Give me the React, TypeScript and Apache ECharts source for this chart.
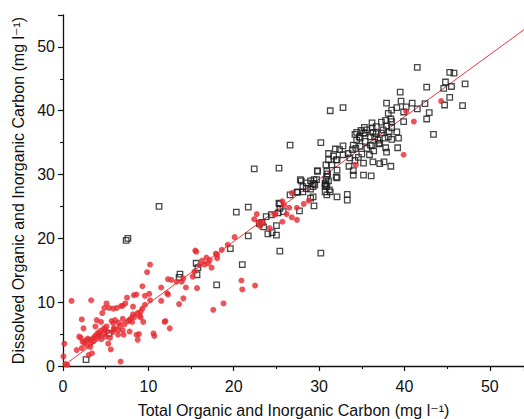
import React, { useEffect, useRef } from "react";
import * as echarts from "echarts";

const xTicks = [0, 10, 20, 30, 40, 50];
const yTicks = [0, 10, 20, 30, 40, 50];

const xTitle = "Total Organic and Inorganic Carbon (mg l\u207B\u00B9)";
const yTitle = "Dissolved Organic and Inorganic Carbon (mg l\u207B\u00B9)";

// black open squares
const squares: number[][] = [
  [2.7, 1.0], [5.4, 5.1], [7.4, 19.7], [7.6, 20.0], [11.25, 25.0], [13.7, 14.4], [13.6, 13.9],
  [15.6, 16.1], [15.8, 15.4], [15.7, 14.3], [18.0, 12.7], [19.6, 18.4], [21.0, 15.9], [21.7, 20.4],
  [20.3, 24.1], [21.7, 24.9], [22.4, 30.9], [25.3, 31.0], [23.0, 22.3], [24.0, 20.7], [25.0, 20.5],
  [25.4, 18.0], [25.0, 22.0], [24.5, 20.9], [23.8, 23.4], [23.5, 21.8], [23.3, 22.5], [25.2, 24.0],
  [25.8, 24.2], [24.4, 23.7], [25.3, 25.5], [25.4, 25.4], [25.4, 24.7], [26.6, 26.8], [27.4, 27.2],
  [27.9, 29.0], [28.1, 27.3], [28.5, 28.7], [29.0, 29.0], [29.4, 29.2], [29.8, 30.5], [29.3, 28.6],
  [27.7, 24.3], [29.4, 25.1], [29.0, 26.3], [29.3, 26.5], [30.2, 17.7], [26.6, 34.6], [30.2, 35.0],
  [31.3, 40.0], [32.8, 40.5], [33.3, 26.9], [33.3, 26.0], [32.1, 26.5], [30.9, 26.8],
  [30.8, 31.5], [31.1, 33.3], [31.7, 32.9], [32.1, 32.3], [31.0, 30.1], [30.8, 28.4], [31.1, 29.0],
  [31.3, 27.3], [32.1, 29.5], [31.1, 32.3], [32.0, 32.3], [31.5, 31.5], [30.9, 30.5], [32.1, 30.7],
  [29.8, 30.6], [30.9, 29.7], [30.8, 29.2], [32.0, 29.6], [30.7, 28.6], [30.7, 28.2], [29.7, 29.2],
  [29.3, 28.1], [27.8, 29.2], [30.9, 28.1], [30.7, 27.3], [29.0, 27.7], [31.2, 27.6], [27.5, 27.3],
  [29.5, 28.4], [28.1, 28.1], [28.5, 27.8], [31.9, 34.0], [32.4, 33.9], [32.8, 34.5], [33.9, 33.9],
  [34.3, 34.1], [34.0, 34.6], [32.8, 33.1], [33.4, 33.3], [34.8, 34.4], [35.6, 34.1], [33.6, 32.6],
  [34.2, 32.2], [33.5, 31.3], [34.0, 30.6], [35.2, 31.8], [35.0, 33.2], [34.6, 32.7], [34.0, 29.9],
  [35.2, 29.9], [36.1, 29.8], [36.3, 32.0], [36.4, 33.7], [35.9, 33.1], [37.1, 31.7], [37.6, 32.0],
  [38.4, 31.3], [37.8, 34.2], [37.9, 33.5], [39.2, 34.2], [36.2, 38.1], [37.3, 38.2], [38.5, 38.3],
  [37.9, 37.6], [36.7, 37.5], [36.2, 37.3], [35.6, 37.0], [35.2, 36.5], [34.4, 36.6], [34.2, 36.3],
  [34.8, 35.7], [34.4, 35.4], [35.4, 35.2], [36.0, 35.9], [36.5, 35.9], [36.9, 35.4], [37.1, 34.9],
  [37.7, 35.7], [38.1, 35.9], [38.5, 35.5], [39.1, 36.7], [39.3, 35.7], [37.5, 37.0], [36.3, 36.6],
  [38.4, 38.7], [35.3, 37.4], [34.9, 36.9], [36.7, 36.4], [37.3, 36.5], [38.5, 37.3], [37.8, 38.5],
  [38.2, 36.7], [37.0, 34.8], [36.2, 34.5], [34.7, 35.9], [35.4, 36.5], [36.0, 34.6],
  [41.5, 46.8], [45.3, 46.0], [45.8, 45.9], [44.8, 44.5], [47.1, 44.2], [42.6, 43.7], [44.6, 43.5],
  [45.5, 43.8], [39.5, 42.9], [45.3, 42.1], [37.9, 41.2], [39.6, 41.5], [39.1, 40.5], [38.5, 40.1],
  [38.1, 39.6], [40.2, 40.6], [40.9, 41.2], [41.5, 40.3], [42.4, 41.1], [44.7, 40.9], [46.8, 40.8],
  [42.9, 39.7], [39.9, 39.8], [39.9, 38.3], [42.6, 38.7], [43.4, 36.3],
];

// red filled circles
const circles: number[][] = [
  [0.05, 1.5], [0.16, 3.5], [0.3, 0.3], [0.5, 0.2], [1.0, 10.2], [3.3, 10.3], [1.6, 2.5], [2.2, 2.8],
  [2.3, 3.8], [2.2, 7.3], [2.4, 5.9], [1.9, 4.6], [2.1, 4.4], [2.5, 3.6], [2.7, 4.0], [2.8, 3.2],
  [2.9, 4.3], [3.0, 1.7], [3.4, 2.0], [3.2, 3.0], [3.1, 4.1], [3.3, 3.7], [3.5, 4.3], [3.6, 3.9],
  [3.7, 4.6], [3.8, 6.2], [3.95, 7.2], [3.9, 4.9], [4.0, 4.4], [4.1, 5.2], [4.2, 4.7], [4.3, 4.9],
  [4.45, 6.9], [4.4, 5.5], [4.5, 4.2], [4.6, 8.3], [4.7, 5.1], [4.8, 5.9], [4.85, 9.1], [4.9, 5.7],
  [5.0, 4.6], [5.1, 9.8], [5.1, 6.2], [5.2, 5.4], [5.3, 3.5], [5.4, 9.1], [5.5, 4.4], [5.6, 2.6],
  [5.7, 7.05], [5.8, 5.3], [5.9, 9.0], [5.9, 6.7], [5.95, 5.9], [6.0, 5.7], [6.1, 7.2], [6.3, 9.1],
  [6.45, 5.6], [6.45, 4.9], [6.5, 6.8], [6.65, 6.2], [6.75, 0.7], [6.8, 9.4], [7.0, 7.4], [7.0, 9.45],
  [7.0, 5.6], [7.1, 4.9], [7.2, 6.5], [7.3, 9.8], [7.5, 10.7], [7.6, 7.0], [7.8, 5.4], [7.8, 7.2],
  [8.0, 7.5], [8.1, 6.9], [8.2, 8.1], [8.2, 9.3], [8.3, 11.1], [8.4, 7.7], [8.6, 11.2], [8.6, 4.9],
  [8.75, 8.3], [8.75, 4.1], [8.9, 5.0], [9.0, 7.9], [9.1, 7.6], [9.1, 8.5], [9.3, 9.0], [9.3, 12.5],
  [9.4, 6.9], [9.6, 11.0], [9.6, 9.6], [9.85, 14.7], [10.1, 11.3], [10.2, 15.9], [10.2, 10.3],
  [10.6, 5.1], [10.7, 4.7], [11.5, 12.3], [11.5, 10.2], [11.9, 6.9], [12.0, 7.05], [12.2, 11.4],
  [12.3, 13.6], [12.3, 11.2], [12.5, 5.9], [12.7, 13.5], [13.3, 13.2], [13.6, 9.7], [13.9, 13.2],
  [14.1, 13.7], [14.1, 10.6], [14.4, 12.3], [15.2, 14.0], [15.4, 14.8], [15.5, 18.1], [15.6, 17.9],
  [15.7, 12.2], [16.0, 15.8], [16.3, 16.5], [16.6, 15.9], [16.8, 17.0], [17.0, 16.1], [17.2, 16.6],
  [17.4, 15.4], [17.6, 8.8], [17.9, 17.6], [18.05, 16.9], [18.05, 17.4], [18.6, 18.2], [18.8, 9.8],
  [19.3, 19.0], [20.1, 20.2], [20.9, 13.4], [21.0, 12.0], [22.5, 12.6], [23.1, 21.9], [23.4, 22.5],
  [24.2, 21.6], [24.8, 23.7], [24.9, 23.9], [25.7, 22.6], [25.9, 25.2], [26.2, 23.8], [26.5, 24.8],
  [26.8, 23.3], [26.8, 27.1], [27.4, 24.8], [27.4, 22.9], [28.2, 25.4], [28.8, 25.9], [25.7, 25.8],
  [22.7, 23.8], [22.4, 23.0], [22.9, 22.5], [34.3, 31.5], [39.9, 33.1], [41.1, 38.3], [40.2, 39.9],
  [44.3, 41.5],
];

// regression line end points
const fitLine: number[][] = [[0, 0], [54, 52.7]];

const FONT = "'Liberation Sans', Arial, 'DejaVu Sans', sans-serif";

export default function App() {
  const ref = useRef<HTMLDivElement>(null);
  useEffect(() => {
    document.body.style.margin = "0";
    if (!ref.current) return;
    const chart = echarts.init(ref.current, undefined, { renderer: "svg" });
    const axisCommon = {
      type: "value" as const,
      interval: 10,
      nameLocation: "middle" as const,
      nameTextStyle: { fontFamily: FONT, fontSize: 16, color: "#111" },
      axisLine: { show: true, lineStyle: { color: "#111", width: 1.3 } },
      axisTick: { show: true, inside: false, length: 5, lineStyle: { color: "#111", width: 1.2 } },
      minorTick: { show: true, splitNumber: 2, length: 3, lineStyle: { color: "#111", width: 1.1 } },
      splitLine: { show: false },
      minorSplitLine: { show: false },
      axisLabel: {
        fontFamily: FONT,
        fontSize: 16,
        color: "#111",
        showMaxLabel: false,
        formatter: (v: number) => (xTicks.includes(v) ? String(v) : ""),
      },
    };
    chart.setOption({
      animation: false,
      backgroundColor: "#fff",
      grid: { left: 63, top: 15, right: 0, bottom: 53, containLabel: false, outerBoundsMode: "none" },
      xAxis: {
        ...axisCommon,
        min: 0,
        max: 54,
        name: xTitle,
        nameGap: 36,
        axisLabel: { ...axisCommon.axisLabel, margin: 12 },
      },
      yAxis: {
        ...axisCommon,
        min: 0,
        max: 55,
        name: yTitle,
        nameGap: 36,
        axisLabel: {
          ...axisCommon.axisLabel,
          margin: 8,
          formatter: (v: number) => (yTicks.includes(v) ? String(v) : ""),
        },
      },
      series: [
        {
          type: "line",
          data: fitLine,
          symbol: "none",
          lineStyle: { color: "#e8383d", width: 1 },
          z: 1,
        },
        {
          type: "scatter",
          data: squares,
          symbol: "rect",
          symbolSize: 5.5,
          itemStyle: { color: "rgba(255,255,255,0)", borderColor: "#1a1a1a", borderWidth: 1.3 },
          z: 2,
        },
        {
          type: "scatter",
          data: circles,
          symbol: "circle",
          symbolSize: 6,
          itemStyle: { color: "#e62a30" },
          z: 3,
        },
      ],
    });
    return () => chart.dispose();
  }, []);
  return <div ref={ref} style={{ width: 524, height: 419 }} />;
}
